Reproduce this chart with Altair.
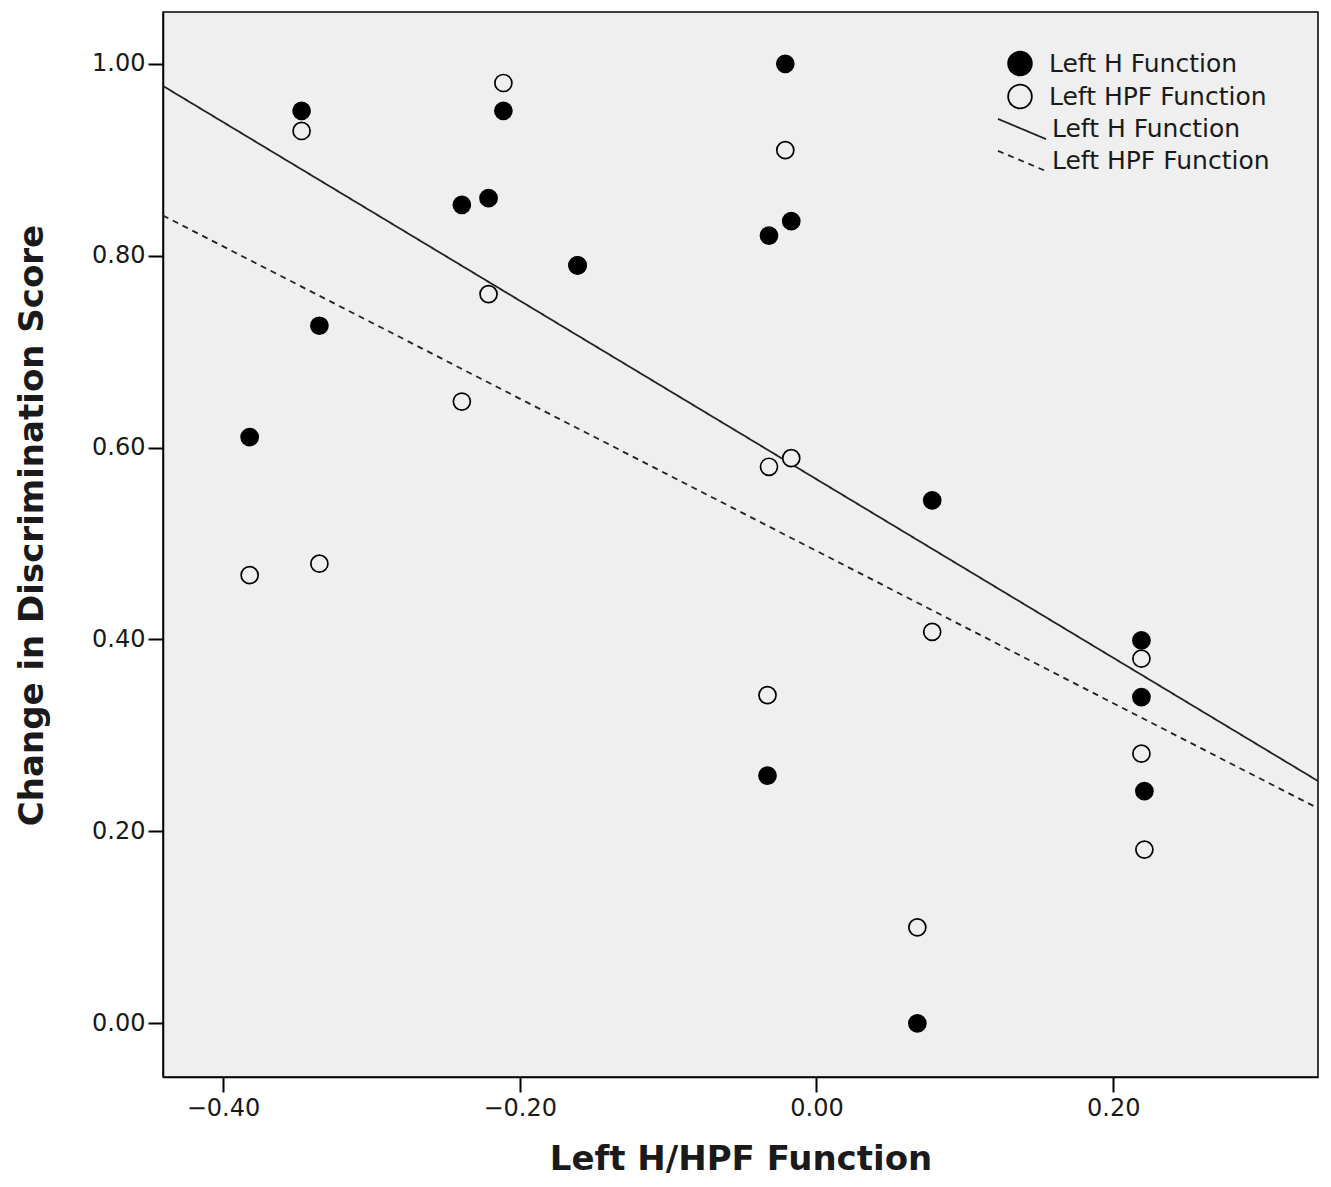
import altair as alt
import pandas as pd

x_h = [-0.382, -0.347, -0.335, -0.239, -0.221, -0.211, -0.161, -0.021, -0.032, -0.017, -0.033, 0.068, 0.078, 0.219, 0.219, 0.221]
y_h = [0.611, 0.951, 0.727, 0.853, 0.860, 0.951, 0.790, 1.000, 0.821, 0.836, 0.258, 0.000, 0.545, 0.399, 0.340, 0.242]
x_hpf = [-0.382, -0.347, -0.335, -0.239, -0.221, -0.211, -0.161, -0.021, -0.032, -0.017, -0.033, 0.068, 0.078, 0.219, 0.219, 0.221]
y_hpf = [0.467, 0.930, 0.479, 0.648, 0.760, 0.980, 0.790, 0.910, 0.580, 0.589, 0.342, 0.100, 0.408, 0.380, 0.281, 0.181]
series = ["Left H Function", "Left HPF Function"]
x_ticks = [-0.4, -0.2, 0.0, 0.2]
y_ticks = [0.0, 0.2, 0.4, 0.6, 0.8, 1.0]
x_dom = [-0.4404, 0.338]
y_dom = [-0.056, 1.054]

df = pd.DataFrame({
    "x": x_h + x_hpf,
    "y": y_h + y_hpf,
    "s": [series[0]] * len(x_h) + [series[1]] * len(x_hpf),
})
# draw open circles first so filled ones sit on top
df["order"] = [1] * len(x_h) + [0] * len(x_hpf)

FONT = "DejaVu Sans"
BG = "#efefef"
TXT = "#1a1a1a"

xenc = alt.X("x:Q", scale=alt.Scale(domain=x_dom, nice=False, zero=False),
             axis=alt.Axis(values=x_ticks, format=".2f", title="Left H/HPF Function"))
yenc = alt.Y("y:Q", scale=alt.Scale(domain=y_dom, nice=False, zero=False),
             axis=alt.Axis(values=y_ticks, format=".2f", title="Change in Discrimination Score",
                           titleY=513))

lines = alt.Chart(df).transform_regression(
    "x", "y", groupby=["s"], extent=x_dom
).mark_line(color="#222", strokeWidth=1.8, clip=True).encode(
    x=xenc, y=yenc,
    strokeDash=alt.StrokeDash("s:N", scale=alt.Scale(domain=series, range=[[1, 0], [6, 5]]),
                              legend=alt.Legend(title=None, orient="none", legendX=834, legendY=101,
                                                symbolType="M-1,-0.42L1,0.42", symbolSize=2304,
                                                symbolStrokeColor="#222", symbolStrokeWidth=1.8,
                                                labelOffset=5, clipHeight=32, rowPadding=0,
                                                padding=0, labelFontSize=25, labelFont=FONT,
                                                labelColor=TXT, labelLimit=500)),
)

points = alt.Chart(df).mark_point(filled=True, size=290, stroke="black", strokeWidth=1.7, opacity=1).encode(
    x=xenc, y=yenc,
    order=alt.Order("order:Q"),
    fill=alt.Fill("s:N", scale=alt.Scale(domain=series, range=["black", BG]),
                  legend=alt.Legend(title=None, orient="none", legendX=844, legendY=35,
                                    symbolType="circle", symbolSize=560,
                                    symbolStrokeColor="black", symbolStrokeWidth=1.8,
                                    labelOffset=16, clipHeight=33, rowPadding=0,
                                    padding=0, labelFontSize=25, labelFont=FONT,
                                    labelColor=TXT, labelLimit=500)),
)

chart = alt.layer(lines, points).resolve_legend(fill="independent", strokeDash="independent").properties(
    width=1155, height=1065,
    padding={"left": 163, "top": 12, "right": 13, "bottom": 110},
    autosize=alt.AutoSizeParams(type="none"),
).configure_view(
    fill=BG, stroke="black", strokeWidth=1.5
).configure_axis(
    grid=False, domainColor="black", domainWidth=1.5, tickColor="black", tickWidth=2, tickSize=15,
    labelFont=FONT, labelFontSize=24, labelColor=TXT,
    titleFont=FONT, titleFontSize=34, titleFontWeight="bold", titleColor=TXT,
).configure_axisX(titlePadding=22, labelPadding=4).configure_axisY(titlePadding=42, labelPadding=3)

chart.save("out.html", embed_options={"renderer": "svg", "actions": False})
